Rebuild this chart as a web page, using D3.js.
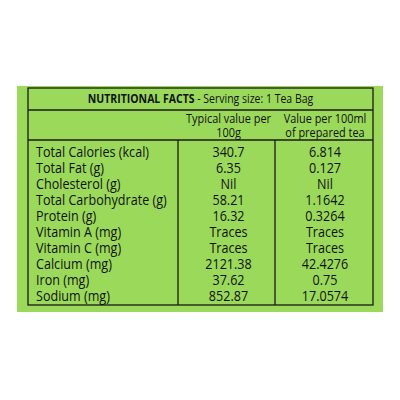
<!DOCTYPE html>
<html><head><meta charset="utf-8">
<script src="https://cdn.jsdelivr.net/npm/d3@7"></script>
<style>body{margin:0;background:#fff}svg{display:block}</style>
</head><body><svg id="c"></svg>
<script>
const nutrients = ["Total Calories (kcal)","Total Fat (g)","Cholesterol (g)","Total Carbohydrate (g)","Protein (g)","Vitamin A (mg)","Vitamin C (mg)","Calcium (mg)","Iron (mg)","Sodium (mg)"];
const per100g = ["340.7","6.35","Nil","58.21","16.32","Traces","Traces","2121.38","37.62","852.87"];
const per100ml = ["6.814","0.127","Nil","1.1642","0.3264","Traces","Traces","42.4276","0.75","17.0574"];
const colHeads = [["Typical value per","100g"],["Value per 100ml","of prepared tea"]];

const svg = d3.select('#c').attr('width',400).attr('height',400);
const font = "'Open Sans',sans-serif";
const sx = 0.84; // squeeze text horizontally, the label uses a narrow face
svg.append('rect').attr('x',17).attr('y',86).attr('width',366).attr('height',226).attr('fill','#9bd95b');

const L=28,R=373,T=88,B=305,c1=178,c2=275;
const g = svg.append('g').attr('stroke','#1a1a1a').attr('stroke-width',1.3).attr('fill','none');
g.append('rect').attr('x',L).attr('y',T).attr('width',R-L).attr('height',B-T);
g.append('line').attr('x1',L).attr('x2',R).attr('y1',110).attr('y2',110);
g.append('line').attr('x1',L).attr('x2',R).attr('y1',140).attr('y2',140);
[c1,c2].forEach(x=>g.append('line').attr('x1',x).attr('x2',x).attr('y1',140).attr('y2',B));

const txt = svg.append('g').attr('transform',`scale(${sx},1)`).attr('font-family',font).attr('fill','#111');

const t = txt.append('text').attr('x',(L+R)/2/sx).attr('y',103).attr('text-anchor','middle').attr('font-size',12.5);
t.append('tspan').attr('font-weight','bold').text('NUTRITIONAL FACTS');
t.append('tspan').text(' - Serving size: 1 Tea Bag');

const cx=[(c1+c2)/2+2,(c2+R)/2+1];
colHeads.forEach((h,i)=>h.forEach((s,j)=>txt.append('text').attr('x',cx[i]/sx).attr('y',123+j*14)
  .attr('text-anchor','middle').attr('font-size',13).text(s)));

const y = d3.scalePoint().domain(nutrients).range([157,301]);
const cols=[{v:nutrients,x:36,a:'start'},{v:per100g,x:cx[0],a:'middle'},{v:per100ml,x:cx[1],a:'middle'}];
cols.forEach(c=>txt.append('g').selectAll('text').data(c.v).join('text')
  .attr('x',c.x/sx).attr('y',(d,i)=>y(nutrients[i])).attr('text-anchor',c.a)
  .attr('font-size',15).text(d=>d));
</script></body></html>
